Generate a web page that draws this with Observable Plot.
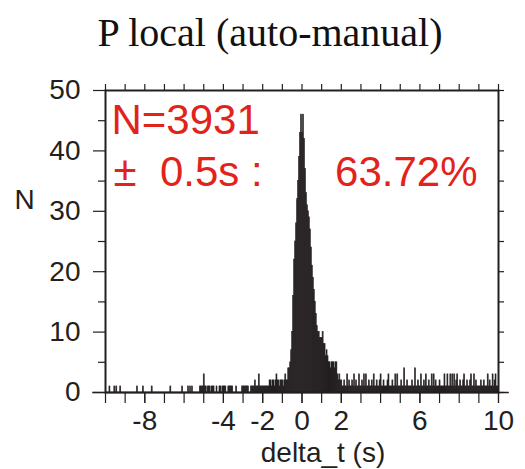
<!DOCTYPE html>
<html>
<head>
<meta charset="utf-8">
<script src="https://cdn.jsdelivr.net/npm/d3@7"></script>
<script src="https://cdn.jsdelivr.net/npm/@observablehq/plot@0.6"></script>
<style>
  html, body { margin: 0; padding: 0; background: #fff; }
  #chart svg { display: block; }
</style>
</head>
<body>
<div id="chart"></div>
<script>
// ---- data (counts per 0.05 s bin) ----
const binWidth = 0.05;
// delta_t from -10 to -1 s
const tailLeft = [
  0,0,0,0,1,0,0,0,0,1,0,1,0,0,0,1,0,0,0,0,
  0,0,0,0,0,0,0,0,0,0,0,0,1,0,0,0,0,0,1,0,
  0,0,0,0,0,0,0,1,0,0,0,0,0,0,0,0,0,0,0,0,
  0,0,0,0,0,0,1,0,0,0,0,0,0,0,0,0,0,0,1,0,
  0,0,0,0,1,0,1,0,1,0,0,0,0,0,0,0,1,1,1,1,
  3,1,1,0,1,1,1,0,1,1,1,0,0,1,0,0,1,1,0,1,
  1,1,1,0,0,1,1,1,1,1,0,0,0,1,0,0,0,0,0,1,
  1,1,1,1,1,1,0,0,1,1,1,1,2,1,1,1,3,1,1,1,
  1,1,1,1,1,1,1,2,2,1,2,2,1,2,3,2,2,1,2,2
];
// delta_t from -1 to 2 s
const core = [
  2,1,2,3,2,2,4,4,5,7,10,16,22,25,28,32,35,39,43,46,
  43,46,42,37,33,31,30,29,27,24,21,19,17,15,13,11,10,10,9,9,
  9,10,8,8,6,7,6,5,5,4,5,5,5,4,5,5,3,2,3,2
];
// delta_t from 2 to 10 s
const tailRight = [
  2,1,1,2,1,1,3,1,2,1,1,2,1,3,1,2,1,1,3,1,
  1,2,1,3,1,3,1,1,2,1,1,2,1,3,1,1,2,1,1,2,
  3,1,1,2,1,1,1,2,3,1,1,1,2,1,1,3,1,3,1,1,
  1,2,1,1,4,1,1,2,1,1,1,1,2,1,1,4,1,1,2,1,
  1,3,1,1,2,1,3,1,1,2,1,1,3,1,3,1,2,1,1,1,
  2,1,1,1,1,3,1,1,3,1,1,3,1,3,1,3,1,2,3,1,
  1,2,1,1,2,3,1,1,2,1,1,2,3,1,1,3,1,2,1,1,
  1,1,2,1,1,2,1,1,1,3,1,2,1,1,3,1,2,3,1,1
];
const xDomain = [-10, 10];
const yDomain = [0, 50];
const xMinorTicks = d3.range(-10, 11, 1);
const xLabeledTicks = [-8, -4, -2, 0, 2, 6, 10];
const yMajorTicks = [0, 10, 20, 30, 40, 50];
const yMinorTicks = [5, 15, 25, 35, 45];
const titleText = "P local (auto-manual)";
const xLabelText = "delta_t (s)";
const yLabelText = "N";
const countText = "N=3931";
const windowText = "±\u00a0\u00a00.5s\u00a0:";
const percentText = "63.72%";

// ---- build bins ----
const allCounts = [...tailLeft, ...core, ...tailRight];
const bins = allCounts.map((n, i) => ({
  x1: xDomain[0] + i * binWidth,
  x2: xDomain[0] + (i + 1) * binWidth,
  n
})).filter(d => d.n > 0);

const ink = "#231f20";
const red = "#e2231a";
const sans = "'Liberation Sans', Arial, Helvetica, sans-serif";
const serif = "'Liberation Serif', 'Times New Roman', serif";

const chart = Plot.plot({
  width: 525,
  height: 469,
  marginLeft: 105,
  marginRight: 27,
  marginTop: 90,
  marginBottom: 77,
  style: { fontFamily: sans, background: "#fff", color: ink, overflow: "visible" },
  x: { domain: xDomain, axis: null },
  y: { domain: yDomain, axis: null },
  marks: [
    Plot.rectY(bins, { x1: "x1", x2: "x2", y: "n", fill: ink, stroke: ink, strokeWidth: 0.6 }),
    Plot.frame({ stroke: ink, strokeWidth: 2 }),
    Plot.ruleY([0], { x1: xDomain[0] - 0.65, x2: xDomain[1] + 0.55, stroke: ink, strokeWidth: 1.5 }),
    // bottom axis: minor ticks (no text) and labeled ticks
    Plot.axisX({ anchor: "bottom", ticks: xMinorTicks, tickSize: 11, fill: "none",
      stroke: ink, strokeWidth: 1.2, label: null }),
    Plot.axisX({ anchor: "bottom", ticks: xLabeledTicks, tickSize: 11, tickPadding: 7,
      tickFormat: d => String(d), fontSize: 28, fontFamily: sans, fill: ink,
      stroke: ink, strokeWidth: 1.2, label: null }),
    // top axis ticks
    Plot.axisX({ anchor: "top", ticks: xMinorTicks, tickSize: 7, fill: "none",
      stroke: ink, strokeWidth: 1.2, label: null }),
    // left axis
    Plot.axisY({ anchor: "left", ticks: yMajorTicks, tickSize: 12, tickPadding: 13,
      tickFormat: d => String(d), fontSize: 28, fontFamily: sans, fill: ink,
      stroke: ink, strokeWidth: 1.2, label: null }),
    Plot.axisY({ anchor: "left", ticks: yMinorTicks, tickSize: 7, fill: "none",
      stroke: ink, strokeWidth: 1.2, label: null }),
    // right axis ticks
    Plot.axisY({ anchor: "right", ticks: [...yMajorTicks, ...yMinorTicks], tickSize: 5, fill: "none",
      stroke: ink, strokeWidth: 1.2, label: null }),
    // title
    Plot.text([titleText], { frameAnchor: "top", dx: -32, dy: -57, lineAnchor: "middle",
      fontSize: 40, fontFamily: serif, fill: "#111" }),
    // axis labels
    Plot.text([xLabelText], { frameAnchor: "bottom", dx: 21, dy: 61, lineAnchor: "middle",
      fontSize: 28, fontFamily: sans, fill: ink }),
    Plot.text([yLabelText], { frameAnchor: "top-left", dx: -81, dy: 110, lineAnchor: "middle",
      textAnchor: "middle", fontSize: 28, fontFamily: sans, fill: ink }),
    // annotations
    Plot.text([countText], { frameAnchor: "top-left", dx: 6, dy: 29.6, lineAnchor: "middle",
      textAnchor: "start", fontSize: 42, fontFamily: sans, fill: red }),
    Plot.text([windowText], { frameAnchor: "top-left", dx: 8, dy: 81.6, lineAnchor: "middle",
      textAnchor: "start", fontSize: 42, fontFamily: sans, fill: red }),
    Plot.text([percentText], { frameAnchor: "top-right", dx: -21, dy: 81.6, lineAnchor: "middle",
      textAnchor: "end", fontSize: 42, fontFamily: sans, fill: red })
  ]
});
document.getElementById("chart").appendChild(chart);
</script>
</body>
</html>
